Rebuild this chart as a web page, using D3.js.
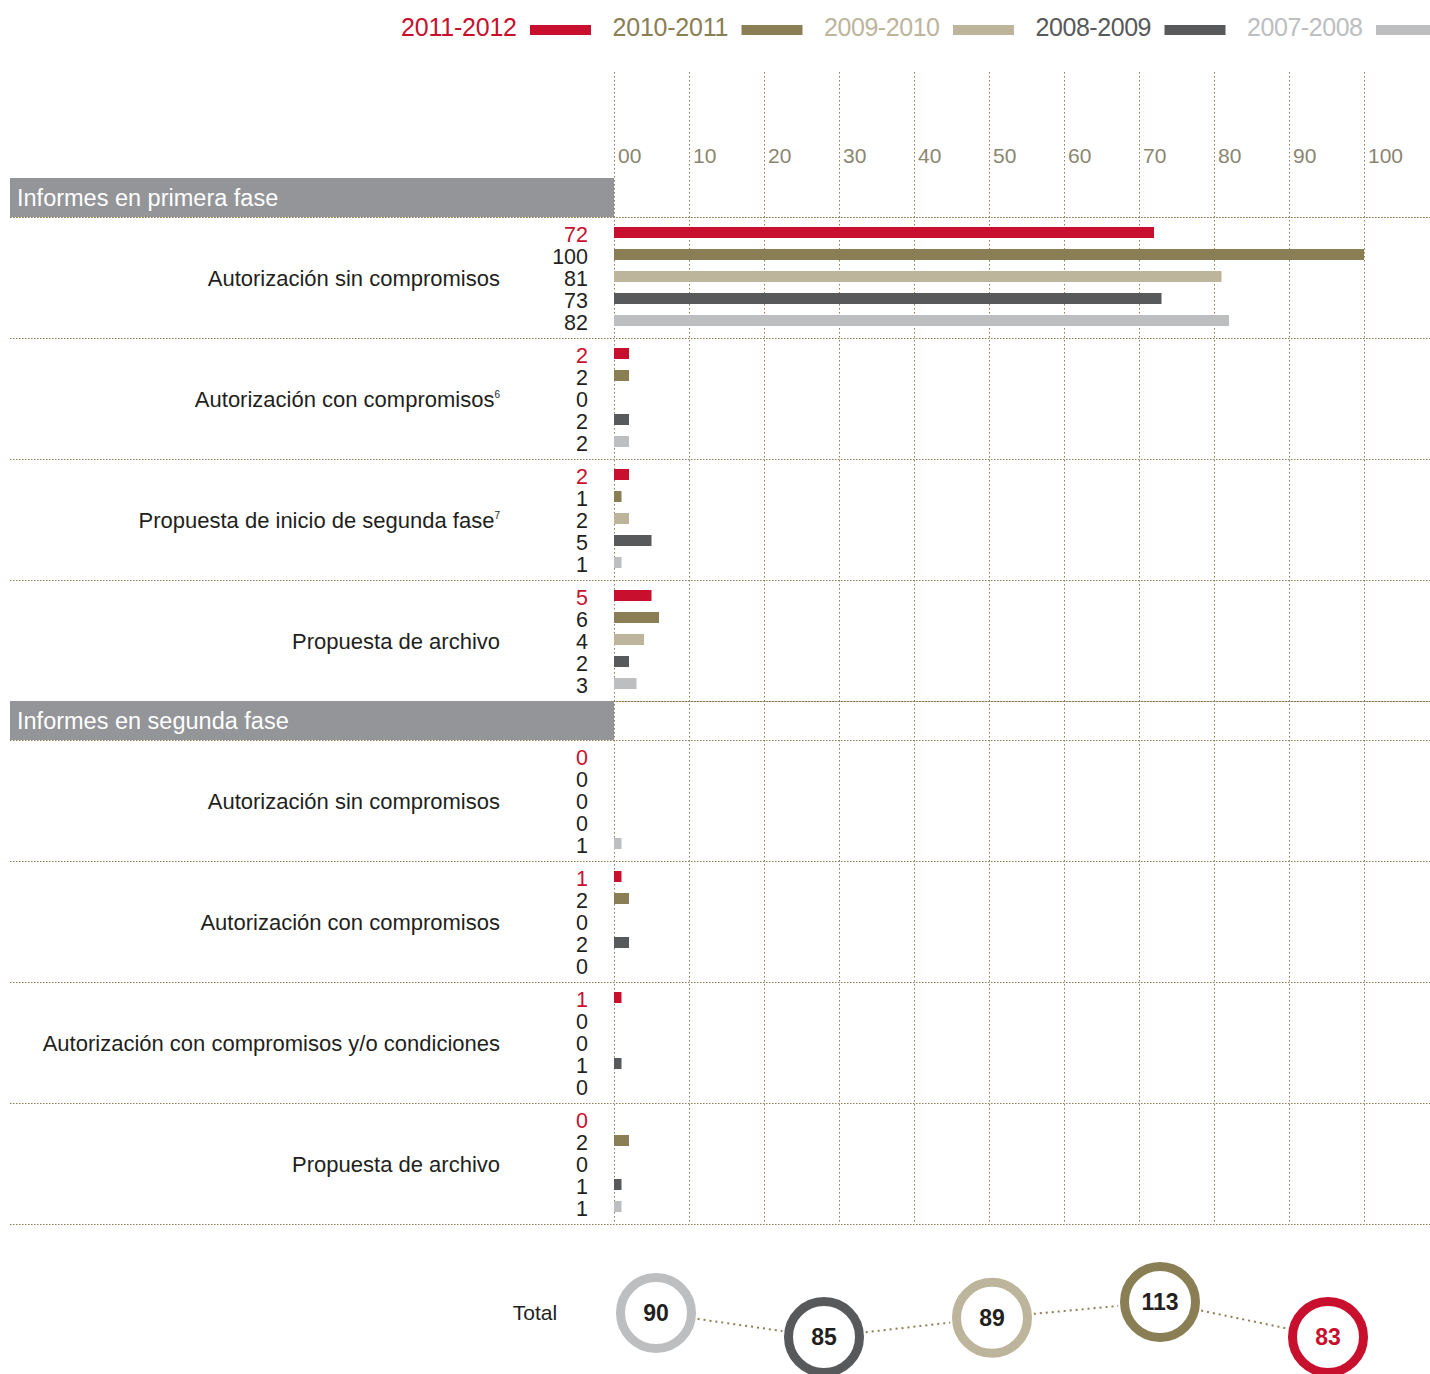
<!DOCTYPE html>
<html>
<head>
<meta charset="utf-8">
<script src="https://cdn.jsdelivr.net/npm/d3@7"></script>
<style>
  body { margin: 0; background: #fff; }
  svg { display: block; font-family: "Liberation Sans", Arial, sans-serif; }
</style>
</head>
<body>
<svg id="chart" width="1430" height="1374"></svg>
<script>
// series (newest first, as in the legend)
const years = ['2011-2012', '2010-2011', '2009-2010', '2008-2009', '2007-2008'];
const yearColors = ['#c8102e', '#8a7e55', '#bcb59c', '#58595b', '#bcbec0'];

const sections = ['Informes en primera fase', 'Informes en segunda fase'];

// primera fase
const cats1 = ['Autorización sin compromisos', 'Autorización con compromisos|6',
               'Propuesta de inicio de segunda fase|7', 'Propuesta de archivo'];
const vals1 = [
  [72, 100, 81, 73, 82],
  [2, 2, 0, 2, 2],
  [2, 1, 2, 5, 1],
  [5, 6, 4, 2, 3]
];

// segunda fase
const cats2 = ['Autorización sin compromisos', 'Autorización con compromisos',
               'Autorización con compromisos y/o condiciones', 'Propuesta de archivo'];
const vals2 = [
  [0, 0, 0, 0, 1],
  [1, 2, 0, 2, 0],
  [1, 0, 0, 1, 0],
  [0, 2, 0, 1, 1]
];

const ticks = [0, 10, 20, 30, 40, 50, 60, 70, 80, 90, 100];

// totals, oldest first
const totalYears = ['2007-2008', '2008-2009', '2009-2010', '2010-2011', '2011-2012'];
const totals = [90, 85, 89, 113, 83];

const svg = d3.select('#chart');
const gridColor = '#8a7e55';
const textColor = '#231f20';

const x = d3.scaleLinear().domain([0, 100]).range([614, 1364]);

// legend
const legend = svg.append('g');
const legX = d3.scalePoint().domain(years).range([401, 1247]);
years.forEach(function(y, i) {
  legend.append('text')
    .attr('x', legX(y)).attr('y', 36)
    .attr('font-size', 25)
    .attr('textLength', 116)
    .attr('fill', yearColors[i])
    .text(y);
  legend.append('rect')
    .attr('x', legX(y) + 129).attr('y', 25)
    .attr('width', 61).attr('height', 10)
    .attr('fill', yearColors[i]);
});

// build the row layout
let rows = [];
let cy = 178;
[[cats1, vals1], [cats2, vals2]].forEach(function(sec, s) {
  rows.push({type: 'header', label: sections[s], y: cy, h: 39});
  cy += 39;
  sec[0].forEach(function(c, i) {
    rows.push({type: 'group', label: c, vals: sec[1][i], y: cy, h: 121});
    cy += 121;
  });
});
const bottom = cy;

// vertical grid
svg.append('g').selectAll('line')
  .data(ticks).enter().append('line')
  .attr('x1', function(d) { return x(d) + 0.5; })
  .attr('x2', function(d) { return x(d) + 0.5; })
  .attr('y1', 72).attr('y2', bottom)
  .attr('stroke', gridColor).attr('stroke-width', 1)
  .attr('stroke-dasharray', '1.5,2.5');

svg.append('g').selectAll('text')
  .data(ticks).enter().append('text')
  .attr('x', function(d) { return x(d) + 4; })
  .attr('y', 163)
  .attr('font-size', 21)
  .attr('fill', '#8a8670')
  .text(function(d) { return d === 0 ? '00' : d; });

// horizontal separators
const hLines = [217];
rows.forEach(function(r) { hLines.push(r.y + r.h); });
svg.append('g').selectAll('line')
  .data(hLines).enter().append('line')
  .attr('x1', 10).attr('x2', 1430)
  .attr('y1', function(d) { return d + 0.5; })
  .attr('y2', function(d) { return d + 0.5; })
  .attr('stroke', gridColor).attr('stroke-width', 1)
  .attr('stroke-dasharray', '1.5,1.5');
svg.append('line')
  .attr('x1', 614).attr('x2', 1430).attr('y1', 701.5).attr('y2', 701.5)
  .attr('stroke', gridColor).attr('stroke-dasharray', '1.5,1.5');

// section headers
rows.filter(function(r) { return r.type === 'header'; }).forEach(function(r) {
  svg.append('rect')
    .attr('x', 10).attr('y', r.y).attr('width', 604).attr('height', r.h)
    .attr('fill', '#939598');
  svg.append('text')
    .attr('x', 17).attr('y', r.y + r.h / 2 + 8)
    .attr('font-size', 23.5).attr('fill', '#fff')
    .text(r.label);
});

// groups of bars
const barY = d3.scalePoint().domain(years).range([15.5, 103.5]);
rows.filter(function(r) { return r.type === 'group'; }).forEach(function(r) {
  const g = svg.append('g').attr('transform', 'translate(0,' + r.y + ')');
  const parts = r.label.split('|');
  const lbl = g.append('text')
    .attr('x', 500).attr('y', 60.5 + 8)
    .attr('text-anchor', 'end')
    .attr('font-size', 22).attr('fill', textColor)
    .text(parts[0]);
  if (parts[1]) {
    lbl.append('tspan').attr('font-size', 10).attr('dy', -9).text(parts[1]);
  }
  g.selectAll('rect')
    .data(r.vals).enter().append('rect')
    .attr('x', x(0))
    .attr('y', function(d, i) { return barY(years[i]) - 5.5; })
    .attr('width', function(d) { return x(d) - x(0); })
    .attr('height', 11)
    .attr('fill', function(d, i) { return yearColors[i]; });
  g.selectAll('text.val')
    .data(r.vals).enter().append('text')
    .attr('class', 'val')
    .attr('x', 588)
    .attr('y', function(d, i) { return barY(years[i]) + 9; })
    .attr('text-anchor', 'end')
    .attr('font-size', 21.5)
    .attr('fill', function(d, i) { return i === 0 ? yearColors[0] : textColor; })
    .text(function(d) { return d; });
});

// totals
const tx = d3.scalePoint().domain(totalYears).range([656, 1328]);
const ty = d3.scaleLinear().domain([85, 90, 113]).range([1337, 1313, 1302]).clamp(true);
const tColor = function(y) { return yearColors[years.indexOf(y)]; };
const pts = totalYears.map(function(y, i) { return [tx(y), ty(totals[i])]; });

for (let i = 0; i < pts.length - 1; i++) {
  const a = pts[i], b = pts[i + 1];
  const dx = b[0] - a[0], dy = b[1] - a[1], len = Math.hypot(dx, dy);
  const r = 42;
  svg.append('line')
    .attr('x1', a[0] + dx / len * r).attr('y1', a[1] + dy / len * r)
    .attr('x2', b[0] - dx / len * r).attr('y2', b[1] - dy / len * r)
    .attr('stroke', gridColor).attr('stroke-width', 2)
    .attr('stroke-dasharray', '2,4');
}

svg.append('text')
  .attr('x', 535).attr('y', 1320)
  .attr('text-anchor', 'middle')
  .attr('font-size', 21).attr('fill', textColor)
  .text('Total');

const tg = svg.append('g').selectAll('g')
  .data(totalYears).enter().append('g')
  .attr('transform', function(d, i) { return 'translate(' + pts[i][0] + ',' + pts[i][1] + ')'; });
tg.append('circle')
  .attr('r', 35.5)
  .attr('fill', '#fff')
  .attr('stroke', tColor)
  .attr('stroke-width', 9);
tg.append('text')
  .attr('y', 8)
  .attr('text-anchor', 'middle')
  .attr('font-size', 23).attr('font-weight', 'bold')
  .attr('fill', function(d) { return d === '2011-2012' ? yearColors[0] : textColor; })
  .text(function(d, i) { return totals[i]; });
</script>
</body>
</html>
